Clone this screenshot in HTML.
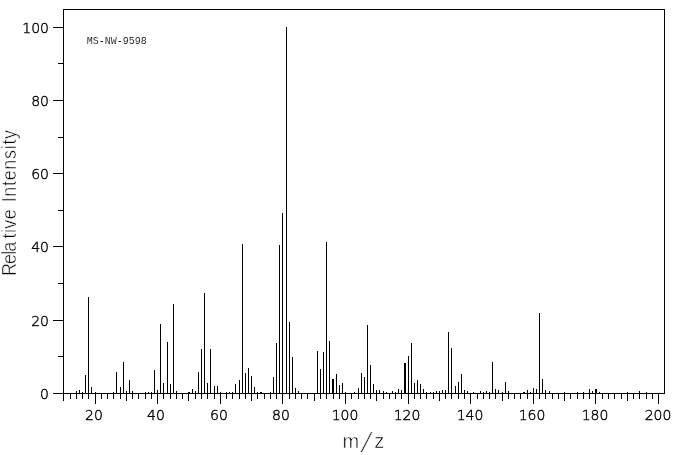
<!DOCTYPE html>
<html lang="en">
<head>
<meta charset="utf-8">
<title>MS-NW-9598 mass spectrum</title>
<style>
html,body{margin:0;padding:0;background:#fff;}
body{width:676px;height:455px;overflow:hidden;position:relative;color:#000;}
#chart{position:absolute;left:0;top:0;width:676px;height:455px;overflow:hidden;background:#fff;}
svg{position:absolute;left:0;top:0;}
svg rect{fill:#000;shape-rendering:crispEdges;}
.yl,.xl{position:absolute;white-space:nowrap;font-family:"DejaVu Sans","Liberation Sans",sans-serif;font-weight:200;color:#000;-webkit-text-stroke:0.4px #000;font-size:14px;line-height:20px;letter-spacing:0px;}
.yl{right:627px;width:40px;text-align:right;margin-top:1px;}
.xl{width:60px;text-align:center;top:405px;margin-left:-1px;}
.ttl{position:absolute;white-space:nowrap;left:86.7px;top:36px;font-family:"Liberation Mono","DejaVu Sans Mono",monospace;font-size:10px;line-height:12px;letter-spacing:0px;-webkit-text-stroke:0.1px #fff;}
.xt,.yt{position:absolute;white-space:nowrap;font-family:"Liberation Sans","DejaVu Sans",sans-serif;color:#000;-webkit-text-stroke:0.5px #fff;line-height:24px;}
.xt{left:342.5px;top:428.5px;font-size:20px;letter-spacing:0px;}
.xt span{display:inline-block;transform:translate(-0.5px,2.5px) skewX(-18deg) scaleY(1.38);transform-origin:50% 60%;margin:0 6px 0 3.5px;}
.yt span{letter-spacing:-1.0px;}
.yt b{font-weight:inherit;letter-spacing:0.43px;margin-left:4.6px;}
.yt{left:-3px;top:276px;font-size:20px;letter-spacing:0.74px;word-spacing:1.0px;transform-origin:0 0;transform:rotate(-90deg) scaleX(0.9);}
</style>
</head>
<body>
<div id="chart">
<svg width="676" height="455" viewBox="0 0 676 455">
<rect x="63" y="9" width="602" height="1"/>
<rect x="63" y="393" width="602" height="1"/>
<rect x="63" y="9" width="1" height="392"/>
<rect x="664" y="9" width="1" height="385"/>
<rect x="53" y="393" width="10" height="1"/>
<rect x="58" y="356" width="5" height="1"/>
<rect x="53" y="320" width="10" height="1"/>
<rect x="58" y="283" width="5" height="1"/>
<rect x="53" y="246" width="10" height="1"/>
<rect x="58" y="210" width="5" height="1"/>
<rect x="53" y="173" width="10" height="1"/>
<rect x="58" y="137" width="5" height="1"/>
<rect x="53" y="100" width="10" height="1"/>
<rect x="58" y="63" width="5" height="1"/>
<rect x="53" y="27" width="10" height="1"/>
<rect x="63" y="394" width="1" height="7"/>
<rect x="70" y="394" width="1" height="5"/>
<rect x="76" y="394" width="1" height="5"/>
<rect x="82" y="394" width="1" height="5"/>
<rect x="88" y="394" width="1" height="5"/>
<rect x="95" y="394" width="1" height="10"/>
<rect x="101" y="394" width="1" height="5"/>
<rect x="107" y="394" width="1" height="5"/>
<rect x="113" y="394" width="1" height="5"/>
<rect x="120" y="394" width="1" height="5"/>
<rect x="126" y="394" width="1" height="7"/>
<rect x="132" y="394" width="1" height="5"/>
<rect x="138" y="394" width="1" height="5"/>
<rect x="145" y="394" width="1" height="5"/>
<rect x="151" y="394" width="1" height="5"/>
<rect x="157" y="394" width="1" height="10"/>
<rect x="163" y="394" width="1" height="5"/>
<rect x="170" y="394" width="1" height="5"/>
<rect x="176" y="394" width="1" height="5"/>
<rect x="182" y="394" width="1" height="5"/>
<rect x="188" y="394" width="1" height="7"/>
<rect x="195" y="394" width="1" height="5"/>
<rect x="201" y="394" width="1" height="5"/>
<rect x="207" y="394" width="1" height="5"/>
<rect x="214" y="394" width="1" height="5"/>
<rect x="220" y="394" width="1" height="10"/>
<rect x="226" y="394" width="1" height="5"/>
<rect x="232" y="394" width="1" height="5"/>
<rect x="239" y="394" width="1" height="5"/>
<rect x="245" y="394" width="1" height="5"/>
<rect x="251" y="394" width="1" height="7"/>
<rect x="257" y="394" width="1" height="5"/>
<rect x="264" y="394" width="1" height="5"/>
<rect x="270" y="394" width="1" height="5"/>
<rect x="276" y="394" width="1" height="5"/>
<rect x="282" y="394" width="1" height="10"/>
<rect x="289" y="394" width="1" height="5"/>
<rect x="295" y="394" width="1" height="5"/>
<rect x="301" y="394" width="1" height="5"/>
<rect x="307" y="394" width="1" height="5"/>
<rect x="314" y="394" width="1" height="7"/>
<rect x="320" y="394" width="1" height="5"/>
<rect x="326" y="394" width="1" height="5"/>
<rect x="333" y="394" width="1" height="5"/>
<rect x="339" y="394" width="1" height="5"/>
<rect x="345" y="394" width="1" height="10"/>
<rect x="351" y="394" width="1" height="5"/>
<rect x="358" y="394" width="1" height="5"/>
<rect x="364" y="394" width="1" height="5"/>
<rect x="370" y="394" width="1" height="5"/>
<rect x="376" y="394" width="1" height="7"/>
<rect x="383" y="394" width="1" height="5"/>
<rect x="389" y="394" width="1" height="5"/>
<rect x="395" y="394" width="1" height="5"/>
<rect x="401" y="394" width="1" height="5"/>
<rect x="408" y="394" width="1" height="10"/>
<rect x="414" y="394" width="1" height="5"/>
<rect x="420" y="394" width="1" height="5"/>
<rect x="426" y="394" width="1" height="5"/>
<rect x="433" y="394" width="1" height="5"/>
<rect x="439" y="394" width="1" height="7"/>
<rect x="445" y="394" width="1" height="5"/>
<rect x="451" y="394" width="1" height="5"/>
<rect x="458" y="394" width="1" height="5"/>
<rect x="464" y="394" width="1" height="5"/>
<rect x="470" y="394" width="1" height="10"/>
<rect x="477" y="394" width="1" height="5"/>
<rect x="483" y="394" width="1" height="5"/>
<rect x="489" y="394" width="1" height="5"/>
<rect x="495" y="394" width="1" height="5"/>
<rect x="502" y="394" width="1" height="7"/>
<rect x="508" y="394" width="1" height="5"/>
<rect x="514" y="394" width="1" height="5"/>
<rect x="520" y="394" width="1" height="5"/>
<rect x="527" y="394" width="1" height="5"/>
<rect x="533" y="394" width="1" height="10"/>
<rect x="539" y="394" width="1" height="5"/>
<rect x="545" y="394" width="1" height="5"/>
<rect x="552" y="394" width="1" height="5"/>
<rect x="558" y="394" width="1" height="5"/>
<rect x="564" y="394" width="1" height="7"/>
<rect x="570" y="394" width="1" height="5"/>
<rect x="577" y="394" width="1" height="5"/>
<rect x="583" y="394" width="1" height="5"/>
<rect x="589" y="394" width="1" height="5"/>
<rect x="595" y="394" width="1" height="10"/>
<rect x="602" y="394" width="1" height="5"/>
<rect x="608" y="394" width="1" height="5"/>
<rect x="614" y="394" width="1" height="5"/>
<rect x="621" y="394" width="1" height="5"/>
<rect x="627" y="394" width="1" height="7"/>
<rect x="633" y="394" width="1" height="5"/>
<rect x="639" y="394" width="1" height="5"/>
<rect x="646" y="394" width="1" height="5"/>
<rect x="652" y="394" width="1" height="5"/>
<rect x="658" y="394" width="1" height="10"/>
<rect x="76" y="391" width="1" height="2"/>
<rect x="79" y="390" width="1" height="3"/>
<rect x="82" y="392" width="1" height="1"/>
<rect x="85" y="375" width="1" height="18"/>
<rect x="88" y="297" width="1" height="96"/>
<rect x="91" y="387" width="1" height="6"/>
<rect x="95" y="392" width="1" height="1"/>
<rect x="113" y="392" width="1" height="1"/>
<rect x="116" y="372" width="1" height="21"/>
<rect x="120" y="387" width="1" height="6"/>
<rect x="123" y="362" width="1" height="31"/>
<rect x="126" y="391" width="1" height="2"/>
<rect x="129" y="380" width="1" height="13"/>
<rect x="132" y="391" width="1" height="2"/>
<rect x="145" y="392" width="1" height="1"/>
<rect x="148" y="392" width="1" height="1"/>
<rect x="151" y="392" width="1" height="1"/>
<rect x="154" y="370" width="1" height="23"/>
<rect x="157" y="390" width="1" height="3"/>
<rect x="160" y="324" width="1" height="69"/>
<rect x="163" y="383" width="1" height="10"/>
<rect x="167" y="342" width="1" height="51"/>
<rect x="170" y="384" width="1" height="9"/>
<rect x="173" y="304" width="1" height="89"/>
<rect x="176" y="391" width="1" height="2"/>
<rect x="188" y="392" width="1" height="1"/>
<rect x="192" y="389" width="1" height="4"/>
<rect x="195" y="391" width="1" height="2"/>
<rect x="198" y="372" width="1" height="21"/>
<rect x="201" y="349" width="1" height="44"/>
<rect x="204" y="293" width="1" height="100"/>
<rect x="207" y="383" width="1" height="10"/>
<rect x="210" y="349" width="1" height="44"/>
<rect x="214" y="386" width="1" height="7"/>
<rect x="217" y="386" width="1" height="7"/>
<rect x="220" y="392" width="1" height="1"/>
<rect x="226" y="392" width="1" height="1"/>
<rect x="229" y="392" width="1" height="1"/>
<rect x="232" y="392" width="1" height="1"/>
<rect x="235" y="384" width="1" height="9"/>
<rect x="239" y="380" width="1" height="13"/>
<rect x="242" y="244" width="1" height="149"/>
<rect x="245" y="373" width="1" height="20"/>
<rect x="248" y="368" width="1" height="25"/>
<rect x="251" y="376" width="1" height="17"/>
<rect x="254" y="387" width="1" height="6"/>
<rect x="257" y="392" width="1" height="1"/>
<rect x="261" y="392" width="1" height="1"/>
<rect x="270" y="392" width="1" height="1"/>
<rect x="273" y="377" width="1" height="16"/>
<rect x="276" y="343" width="1" height="50"/>
<rect x="279" y="245" width="1" height="148"/>
<rect x="282" y="213" width="1" height="180"/>
<rect x="286" y="27" width="1" height="366"/>
<rect x="289" y="322" width="1" height="71"/>
<rect x="292" y="357" width="1" height="36"/>
<rect x="295" y="388" width="1" height="5"/>
<rect x="298" y="391" width="1" height="2"/>
<rect x="317" y="351" width="1" height="42"/>
<rect x="320" y="369" width="1" height="24"/>
<rect x="323" y="352" width="1" height="41"/>
<rect x="326" y="242" width="1" height="151"/>
<rect x="329" y="341" width="1" height="52"/>
<rect x="333" y="379" width="1" height="14"/>
<rect x="336" y="374" width="1" height="19"/>
<rect x="339" y="385" width="1" height="8"/>
<rect x="342" y="383" width="1" height="10"/>
<rect x="345" y="392" width="1" height="1"/>
<rect x="354" y="392" width="1" height="1"/>
<rect x="358" y="388" width="1" height="5"/>
<rect x="361" y="373" width="1" height="20"/>
<rect x="364" y="377" width="1" height="16"/>
<rect x="367" y="325" width="1" height="68"/>
<rect x="370" y="365" width="1" height="28"/>
<rect x="373" y="384" width="1" height="9"/>
<rect x="376" y="390" width="1" height="3"/>
<rect x="379" y="390" width="1" height="3"/>
<rect x="383" y="391" width="1" height="2"/>
<rect x="386" y="392" width="1" height="1"/>
<rect x="392" y="391" width="1" height="2"/>
<rect x="395" y="392" width="1" height="1"/>
<rect x="398" y="389" width="1" height="4"/>
<rect x="401" y="390" width="1" height="3"/>
<rect x="405" y="363" width="1" height="30"/>
<rect x="408" y="356" width="1" height="37"/>
<rect x="411" y="343" width="1" height="50"/>
<rect x="414" y="383" width="1" height="10"/>
<rect x="417" y="380" width="1" height="13"/>
<rect x="420" y="384" width="1" height="9"/>
<rect x="423" y="389" width="1" height="4"/>
<rect x="426" y="392" width="1" height="1"/>
<rect x="430" y="392" width="1" height="1"/>
<rect x="433" y="392" width="1" height="1"/>
<rect x="436" y="391" width="1" height="2"/>
<rect x="439" y="391" width="1" height="2"/>
<rect x="442" y="390" width="1" height="3"/>
<rect x="445" y="390" width="1" height="3"/>
<rect x="448" y="332" width="1" height="61"/>
<rect x="451" y="348" width="1" height="45"/>
<rect x="455" y="386" width="1" height="7"/>
<rect x="458" y="382" width="1" height="11"/>
<rect x="461" y="374" width="1" height="19"/>
<rect x="464" y="390" width="1" height="3"/>
<rect x="467" y="391" width="1" height="2"/>
<rect x="473" y="392" width="1" height="1"/>
<rect x="480" y="391" width="1" height="2"/>
<rect x="483" y="392" width="1" height="1"/>
<rect x="486" y="391" width="1" height="2"/>
<rect x="489" y="392" width="1" height="1"/>
<rect x="492" y="362" width="1" height="31"/>
<rect x="495" y="389" width="1" height="4"/>
<rect x="498" y="390" width="1" height="3"/>
<rect x="502" y="392" width="1" height="1"/>
<rect x="505" y="382" width="1" height="11"/>
<rect x="508" y="391" width="1" height="2"/>
<rect x="524" y="392" width="1" height="1"/>
<rect x="527" y="390" width="1" height="3"/>
<rect x="530" y="392" width="1" height="1"/>
<rect x="533" y="388" width="1" height="5"/>
<rect x="536" y="389" width="1" height="4"/>
<rect x="539" y="313" width="1" height="80"/>
<rect x="542" y="379" width="1" height="14"/>
<rect x="545" y="390" width="1" height="3"/>
<rect x="549" y="391" width="1" height="2"/>
<rect x="564" y="392" width="1" height="1"/>
<rect x="577" y="392" width="1" height="1"/>
<rect x="583" y="392" width="1" height="1"/>
<rect x="589" y="389" width="1" height="4"/>
<rect x="592" y="391" width="1" height="2"/>
<rect x="596" y="389" width="1" height="4"/>
<rect x="599" y="392" width="1" height="1"/>
<rect x="627" y="392" width="1" height="1"/>
<rect x="639" y="391" width="1" height="2"/>
<rect x="646" y="392" width="1" height="1"/>
<rect x="189" y="392" width="1" height="1"/>
<rect x="260" y="392" width="1" height="1"/>
<rect x="332" y="379" width="1" height="14"/>
<rect x="404" y="363" width="1" height="30"/>
<rect x="523" y="392" width="1" height="1"/>
<rect x="595" y="389" width="1" height="4"/>
</svg>
<div class="ttl">MS-NW-9598</div>
<div class="yl" style="top:383px">0</div>
<div class="yl" style="top:310px">20</div>
<div class="yl" style="top:236px">40</div>
<div class="yl" style="top:163px">60</div>
<div class="yl" style="top:90px">80</div>
<div class="yl" style="top:17px">100</div>
<div class="xl" style="left:65px">20</div>
<div class="xl" style="left:127px">40</div>
<div class="xl" style="left:190px">60</div>
<div class="xl" style="left:252px">80</div>
<div class="xl" style="left:316px">100</div>
<div class="xl" style="left:378px">120</div>
<div class="xl" style="left:441px">140</div>
<div class="xl" style="left:503px">160</div>
<div class="xl" style="left:566px">180</div>
<div class="xl" style="left:629px">200</div>
<div class="xt" aria-label="m/z">m<span>/</span>z</div>
<div class="yt" aria-label="Relative Intensity"><span>Rela</span><b>tive</b> Intensity</div>
</div>
</body>
</html>
